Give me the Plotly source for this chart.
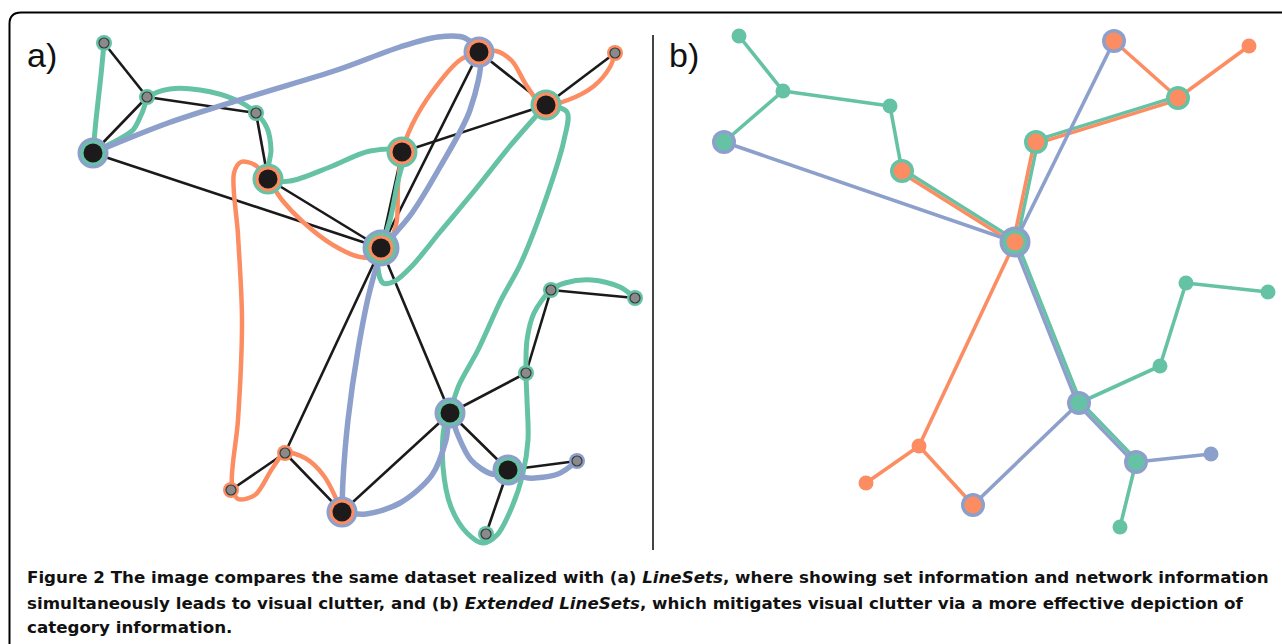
import math
import plotly.graph_objects as go

W, H = 1282, 644
GREEN = "#66C2A5"
ORANGE = "#FC8D62"
BLUE = "#8DA0CB"
SET_COLORS = {"G": GREEN, "O": ORANGE, "B": BLUE}

# ---------------- node data (same 20 nodes in both panels) ----------------
NODE_A_X = [104, 147, 256, 93, 268, 402, 479, 546, 615, 381, 551, 635, 526, 450, 508, 577, 285, 231, 342, 486]
NODE_A_Y = [43, 97, 113, 153, 179, 152, 52, 105, 53, 248, 290, 298, 373, 413, 470, 461, 453, 490, 512, 534]
NODE_B_X = [739, 783, 890, 724, 902, 1036, 1114, 1178, 1249, 1015, 1186, 1268, 1160, 1079, 1136, 1211, 919, 866, 973, 1120]
NODE_B_Y = [36, 91, 106, 142, 171, 142, 41, 98, 46, 242, 283, 292, 366, 403, 462, 454, 446, 483, 505, 527]
NODE_SETS = ["G", "G", "G", "GB", "OG", "OG", "OB", "OG", "O", "OGB",
             "G", "G", "G", "GB", "GB", "B", "O", "O", "OB", "G"]
NODE_HUB = [0, 0, 0, 1, 1, 1, 1, 1, 0, 1, 0, 0, 0, 1, 1, 0, 0, 0, 1, 0]

# network edges (panel a, black)
NETWORK_EDGES = [(0, 1), (1, 3), (1, 2), (2, 4), (3, 9), (4, 9), (5, 9), (5, 7), (6, 9), (6, 7),
                 (7, 8), (9, 13), (9, 16), (16, 17), (16, 18), (18, 13), (13, 12), (12, 10),
                 (10, 11), (13, 14), (14, 15), (14, 19)]

# ---------------- panel a: LineSets curves (waypoints) ----------------
GREEN_CURVE_1_X = [104, 101, 96, 93]
GREEN_CURVE_1_Y = [43, 75, 120, 153]
GREEN_CURVE_2_X = [93, 112, 133, 142, 149, 170, 200, 236, 256, 267, 271, 268, 290, 330, 370, 402, 397, 390, 381]
GREEN_CURVE_2_Y = [153, 143, 130, 113, 97, 89, 90, 100, 113, 128, 150, 179, 181, 167, 151, 152, 185, 220, 248]
GREEN_CURVE_3_X = [381, 378, 383, 395, 412, 440, 475, 510, 546]
GREEN_CURVE_3_Y = [248, 268, 283, 281, 266, 232, 190, 146, 105]
GREEN_CURVE_4_X = [546, 567, 564, 543, 520, 501, 478, 459, 450]
GREEN_CURVE_4_Y = [105, 112, 140, 207, 265, 300, 350, 385, 413]
GREEN_CURVE_5_X = [450, 444, 443, 451, 467, 483, 497, 512, 523, 528, 527, 526, 527, 534, 551, 565, 592, 620, 635]
GREEN_CURVE_5_Y = [413, 428, 467, 507, 533, 543, 535, 507, 473, 440, 400, 373, 340, 313, 290, 283, 280, 287, 298]

ORANGE_CURVE_1_X = [479, 460, 432, 412, 402, 398, 396, 381, 360, 333, 303, 282, 268,
                    255, 241, 234, 238, 242, 238, 232, 238, 255, 272, 285, 305, 324, 342]
ORANGE_CURVE_1_Y = [52, 60, 92, 125, 152, 185, 225, 255, 257, 245, 222, 200, 179,
                    165, 162, 173, 235, 320, 420, 485, 499, 495, 469, 453, 458, 476, 512]
ORANGE_CURVE_2_X = [479, 496, 512, 525, 537, 546, 568, 594, 610, 615]
ORANGE_CURVE_2_Y = [52, 51, 61, 83, 100, 105, 100, 86, 67, 53]

BLUE_CURVE_1_X = [93, 168, 252, 337, 400, 438, 465, 480, 470, 440, 412, 383, 370, 358, 348, 343, 342]
BLUE_CURVE_1_Y = [153, 123, 96, 70, 47, 37, 38, 55, 110, 167, 213, 250, 290, 350, 420, 480, 512]
BLUE_CURVE_2_X = [342, 366, 400, 432, 446, 450, 457, 471, 492, 508, 528, 558, 577]
BLUE_CURVE_2_Y = [512, 514, 503, 475, 440, 413, 433, 460, 474, 472, 478, 474, 461]

# ---------------- panel b: Extended LineSets edges ----------------
B_EDGES_GREEN = [(0, 1), (1, 3), (1, 2), (2, 4), (4, 9), (9, 5), (5, 7), (9, 13), (13, 12),
                 (12, 10), (10, 11), (13, 14), (14, 19)]
B_EDGES_ORANGE = [(4, 9), (9, 5), (5, 7), (7, 6), (7, 8), (9, 16), (16, 17), (16, 18)]
B_EDGES_BLUE = [(3, 9), (9, 6), (9, 13), (13, 18), (13, 14), (14, 15)]

PANEL_LABELS = ["a)", "b)"]
CAPTION_LINES = [
    "<b>Figure 2</b> The image compares the same dataset realized with (a) <i>LineSets</i>, where showing set information and network information",
    "simultaneously leads to visual clutter, and (b) <i>Extended LineSets</i>, which mitigates visual clutter via a more effective depiction of",
    "category information.",
]

fig = go.Figure()


def add_line(xs, ys, color, width, shape="linear"):
    fig.add_trace(go.Scatter(x=xs, y=ys, mode="lines",
                             line=dict(color=color, width=width, shape=shape, smoothing=0.9),
                             hoverinfo="skip"))


def add_dot(x, y, size, color, lw=0, lc="#333"):
    fig.add_trace(go.Scatter(x=[x], y=[y], mode="markers",
                             marker=dict(size=size, color=color, line=dict(width=lw, color=lc)),
                             hoverinfo="skip"))


# ---- panel a ----
ex, ey = [], []
for i, j in NETWORK_EDGES:
    ex += [NODE_A_X[i], NODE_A_X[j], None]
    ey += [NODE_A_Y[i], NODE_A_Y[j], None]
add_line(ex, ey, "#1a1a1a", 2.6)

for xs, ys in [(ORANGE_CURVE_1_X, ORANGE_CURVE_1_Y), (ORANGE_CURVE_2_X, ORANGE_CURVE_2_Y)]:
    add_line(xs, ys, ORANGE, 4.5, "spline")
for xs, ys in [(GREEN_CURVE_1_X, GREEN_CURVE_1_Y), (GREEN_CURVE_2_X, GREEN_CURVE_2_Y),
               (GREEN_CURVE_3_X, GREEN_CURVE_3_Y), (GREEN_CURVE_4_X, GREEN_CURVE_4_Y),
               (GREEN_CURVE_5_X, GREEN_CURVE_5_Y)]:
    add_line(xs, ys, GREEN, 5, "spline")
for xs, ys in [(BLUE_CURVE_1_X, BLUE_CURVE_1_Y), (BLUE_CURVE_2_X, BLUE_CURVE_2_Y)]:
    add_line(xs, ys, BLUE, 5.5, "spline")

for k in range(len(NODE_A_X)):
    x, y, sets = NODE_A_X[k], NODE_A_Y[k], NODE_SETS[k]
    if NODE_HUB[k]:
        for r in range(len(sets), 0, -1):
            add_dot(x, y, 19 + 6 * r, SET_COLORS[sets[r - 1]])
        add_dot(x, y, 19, "#1c1a1b")
    else:
        add_dot(x, y, 16, SET_COLORS[sets[0]])
        add_dot(x, y, 10, "#8a8a8a", 1.2, "#3a3a3a")

# ---- panel b ----
edge_sets = {}
for name, lst in [("G", B_EDGES_GREEN), ("O", B_EDGES_ORANGE), ("B", B_EDGES_BLUE)]:
    for e in lst:
        key = tuple(sorted(e))
        edge_sets.setdefault(key, []).append(name)

traces_b = {"G": ([], []), "O": ([], []), "B": ([], [])}
for (i, j), sets in edge_sets.items():
    x0, y0, x1, y1 = NODE_B_X[i], NODE_B_Y[i], NODE_B_X[j], NODE_B_Y[j]
    L = math.hypot(x1 - x0, y1 - y0)
    nx, ny = -(y1 - y0) / L, (x1 - x0) / L
    n = len(sets)
    for idx, s in enumerate(sets):
        d = (idx - (n - 1) / 2) * 3.4
        xs, ys = traces_b[s]
        xs += [x0 + nx * d, x1 + nx * d, None]
        ys += [y0 + ny * d, y1 + ny * d, None]
for s in ["G", "O", "B"]:
    add_line(traces_b[s][0], traces_b[s][1], SET_COLORS[s], 3.6)

for k in range(len(NODE_B_X)):
    x, y, sets = NODE_B_X[k], NODE_B_Y[k], NODE_SETS[k]
    if NODE_HUB[k]:
        for r in range(len(sets) - 1, 0, -1):
            add_dot(x, y, 17 + 7 * r, SET_COLORS[sets[r]])
        add_dot(x, y, 17, SET_COLORS[sets[0]])
    else:
        add_dot(x, y, 15, SET_COLORS[sets[0]])

# ---- labels & caption ----
for lbl, lx in zip(PANEL_LABELS, [25, 667]):
    fig.add_annotation(x=lx, y=55, text=lbl, showarrow=False, xanchor="left", yanchor="middle",
                       font=dict(family="Liberation Sans", size=34, color="#111"))
for line, cy in zip(CAPTION_LINES, [577, 603, 627]):
    fig.add_annotation(x=25, y=cy, text=line, showarrow=False, xanchor="left", yanchor="middle",
                       font=dict(family="DejaVu Sans", size=16.7, color="#111", weight=600))

fig.add_shape(type="path", path="M 9.5,660 L 9.5,24 Q 9.5,12.5 21,12.5 L 1300,12.5",
              line=dict(color="#000", width=2))
fig.add_shape(type="line", x0=653, x1=653, y0=35, y1=550, line=dict(color="#444", width=2))

fig.update_layout(
    width=W, height=H, margin=dict(l=0, r=0, t=0, b=0),
    paper_bgcolor="white", plot_bgcolor="white", showlegend=False, hovermode=False,
    xaxis=dict(range=[0, W], visible=False, fixedrange=True),
    yaxis=dict(range=[H, 0], visible=False, fixedrange=True),
)
fig.write_html("out.html", config={"displayModeBar": False},
               post_script="document.body.style.margin='0';document.body.style.overflow='hidden';")
